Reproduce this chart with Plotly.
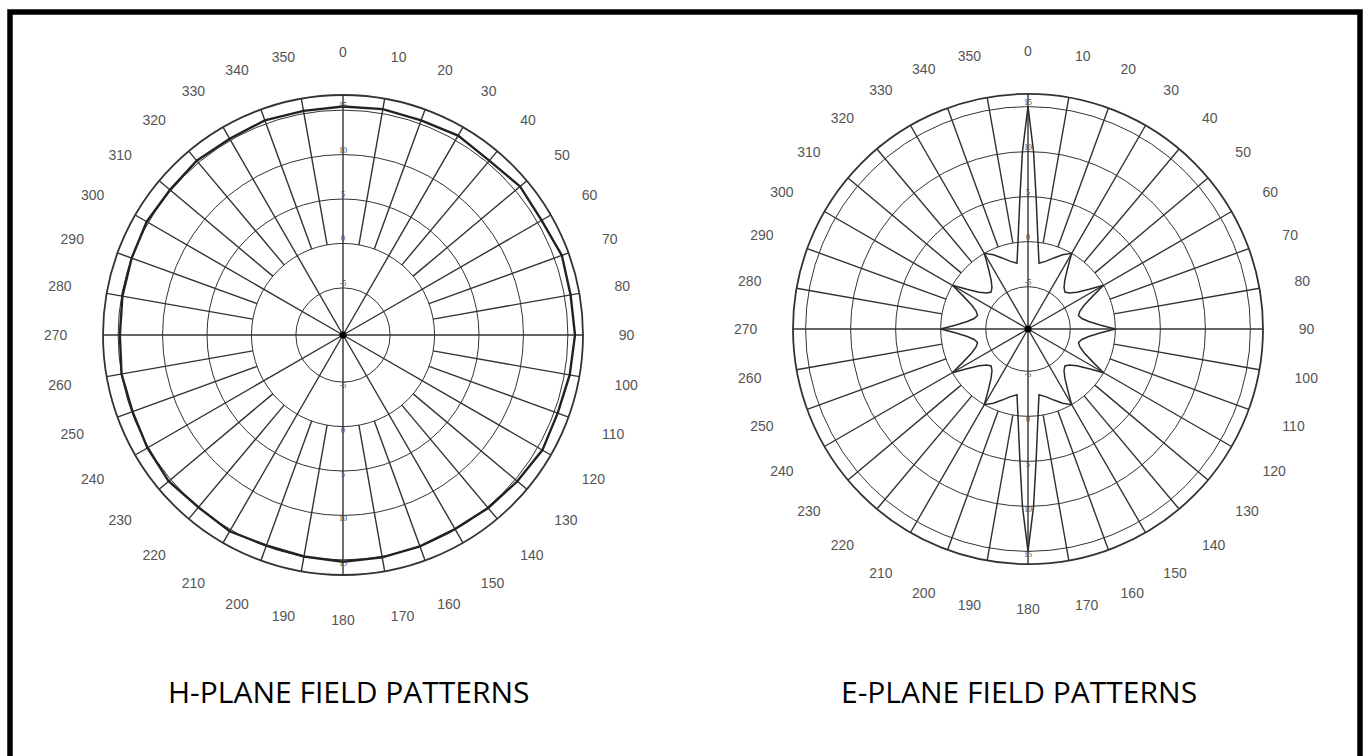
import plotly.graph_objects as go

W, H = 1364, 756

# ---- axis ticks / labels ----
ANGLE_TICKS = list(range(0, 360, 10))
ANGLE_LABELS = [str(a) for a in ANGLE_TICKS]
RADIAL_TICKS = [-5, 0, 5, 10, 15]
RADIAL_LABELS = ["-5", "0", "5", "10", "15"]

# ---- H-plane pattern (nearly omnidirectional) ----
H_THETA = list(range(0, 361, 10))
H_R = [15.4, 15.5, 15.4, 15.6, 15.3, 15.7, 15.5, 15.9, 15.7, 15.8,
       15.6, 15.4, 15.6, 15.3, 15.1, 14.9, 15.0, 15.1, 15.2, 15.0,
       14.9, 15.2, 15.0, 15.3, 15.1, 14.9, 15.0, 14.8, 14.9, 15.0,
       15.2, 15.1, 15.3, 15.2, 15.4, 15.3, 15.4]

# ---- E-plane pattern (two narrow lobes + star) ----
E_THETA = [0, 1.8, 3.5, 6.6, 9.5, 15, 20, 25, 30,
           33, 37, 41, 45, 49, 53, 57, 60,
           63, 67, 71, 75, 79, 83, 87, 90,
           93, 97, 101, 105, 109, 113, 117, 120,
           123, 127, 131, 135, 139, 143, 147, 150,
           155, 160, 165, 170.5, 173.4, 176.5, 178.2, 180,
           181.8, 183.5, 186.6, 189.5, 195, 200, 205, 210,
           213, 217, 221, 225, 229, 233, 237, 240,
           243, 247, 251, 255, 259, 263, 267, 270,
           273, 277, 281, 285, 289, 293, 297, 300,
           303, 307, 311, 315, 319, 323, 327, 330,
           335, 340, 345, 350.5, 353.4, 356.5, 358.2, 360]
E_R = [15, 10, 5, 0, -2.3, -1.9, -1.3, -0.6, 0,
       -1.6, -2.9, -3.6, -3.9, -3.6, -2.9, -1.6, 0,
       -1.6, -2.9, -3.6, -3.9, -3.6, -2.9, -1.6, 0,
       -1.6, -2.9, -3.6, -3.9, -3.6, -2.9, -1.6, 0,
       -1.6, -2.9, -3.6, -3.9, -3.6, -2.9, -1.6, 0,
       -0.6, -1.3, -1.9, -2.3, 0, 5, 10, 15,
       10, 5, 0, -2.3, -1.9, -1.3, -0.6, 0,
       -1.6, -2.9, -3.6, -3.9, -3.6, -2.9, -1.6, 0,
       -1.6, -2.9, -3.6, -3.9, -3.6, -2.9, -1.6, 0,
       -1.6, -2.9, -3.6, -3.9, -3.6, -2.9, -1.6, 0,
       -1.6, -2.9, -3.6, -3.9, -3.6, -2.9, -1.6, 0,
       -0.6, -1.3, -1.9, -2.3, 0, 5, 10, 15]

TITLES = ["H-PLANE FIELD PATTERNS", "E-PLANE FIELD PATTERNS"]

GRID = "#333333"
LABEL_COLOR = "#555555"

# chart placement (pixels): centre x, centre y, radius, radial range
CHARTS = [
    dict(cx=343, cy=335, rad=240, rng=[-10.3, 16.7], title_x=349),
    dict(cx=1028, cy=329, rad=235, rng=[-9.7, 16.4], title_x=1019),
]

fig = go.Figure()

for i, ch in enumerate(CHARTS):
    sub = "polar" if i == 0 else "polar2"
    rmin, rmax = ch["rng"]
    # spokes: every 30 deg from centre, the others from the 0 ring outwards
    sr, st = [], []
    for a in ANGLE_TICKS:
        start = rmin if a % 30 == 0 else 0
        sr += [start, rmax, None]
        st += [a, a, None]
    fig.add_trace(go.Scatterpolar(r=sr, theta=st, mode="lines",
                                  line=dict(color=GRID, width=1.4),
                                  hoverinfo="skip", showlegend=False, subplot=sub))
    # pattern
    if i == 0:
        fig.add_trace(go.Scatterpolar(r=H_R, theta=H_THETA, mode="lines",
                                      line=dict(color="#222222", width=2.4),
                                      showlegend=False, subplot=sub))
    else:
        fig.add_trace(go.Scatterpolar(r=E_R, theta=E_THETA, mode="lines",
                                      line=dict(color="#2a2a2a", width=1.5),
                                      showlegend=False, subplot=sub))
    # radial tick labels along 0 and 180
    fig.add_trace(go.Scatterpolar(
        r=RADIAL_TICKS + RADIAL_TICKS,
        theta=[0] * len(RADIAL_TICKS) + [180] * len(RADIAL_TICKS),
        text=RADIAL_LABELS + RADIAL_LABELS,
        mode="text",
        textposition=["top center"] * len(RADIAL_TICKS) + ["bottom center"] * len(RADIAL_TICKS),
        textfont=dict(size=8, color="#444444", family="Liberation Serif"),
        cliponaxis=False, hoverinfo="skip", showlegend=False, subplot=sub))
    # centre dot
    fig.add_trace(go.Scatterpolar(r=[rmin], theta=[0], mode="markers",
                                  marker=dict(color="black", size=7),
                                  cliponaxis=False, hoverinfo="skip",
                                  showlegend=False, subplot=sub))

    dom = dict(x=[(ch["cx"] - ch["rad"]) / W, (ch["cx"] + ch["rad"]) / W],
               y=[1 - (ch["cy"] + ch["rad"]) / H, 1 - (ch["cy"] - ch["rad"]) / H])
    polar = dict(
        domain=dom,
        bgcolor="white",
        radialaxis=dict(range=ch["rng"], tickvals=RADIAL_TICKS, showticklabels=False,
                        ticks="", showline=False, gridcolor=GRID, gridwidth=1.4),
        angularaxis=dict(rotation=90, direction="clockwise", tickmode="array",
                         tickvals=ANGLE_TICKS, ticktext=ANGLE_LABELS,
                         showgrid=False, showline=True, linecolor="#333333",
                         linewidth=1.8, ticks="outside", ticklen=32,
                         tickcolor="rgba(0,0,0,0)",
                         tickfont=dict(size=14, color=LABEL_COLOR,
                                       family="Liberation Sans")),
    )
    fig.update_layout(**{sub: polar})

    fig.add_annotation(text=TITLES[i], xref="paper", yref="paper",
                       x=ch["title_x"] / W, y=1 - 691 / H,
                       xanchor="center", yanchor="middle", showarrow=False,
                       font=dict(size=30, color="black", family="Open Sans"))

# outer frame
fig.add_shape(type="rect", xref="paper", yref="paper",
              x0=10 / W, x1=1360 / W, y0=-0.1, y1=1 - 12 / H,
              line=dict(color="black", width=5.5), fillcolor="rgba(0,0,0,0)")

fig.update_layout(width=W, height=H, margin=dict(l=0, r=0, t=0, b=0),
                  paper_bgcolor="white", plot_bgcolor="white", showlegend=False)

fig.write_html("out.html", config={"displayModeBar": False},
               post_script="document.body.style.margin='0';document.body.style.overflow='hidden';")
